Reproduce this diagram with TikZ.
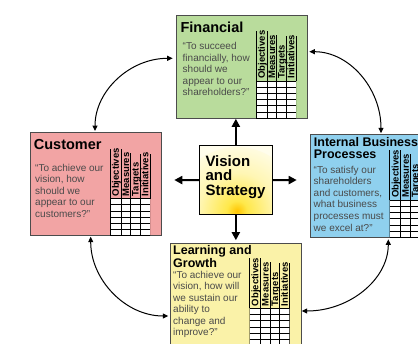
\documentclass[tikz,border=0pt]{standalone}
\usepackage{fontspec}
\setmainfont{Liberation Sans}
\usetikzlibrary{arrows.meta}

\definecolor{fingreen}{HTML}{B9DC9C}
\definecolor{custpink}{HTML}{F2A4A4}
\definecolor{procblue}{HTML}{8FD0EE}
\definecolor{learnyellow}{HTML}{FAF2A8}
\definecolor{quotegray}{HTML}{4A4A4A}
\definecolor{cream}{HTML}{FFFDEC}
\definecolor{glowcore}{HTML}{FFC400}
\definecolor{glowmid}{HTML}{FFE84A}
\definecolor{glowpale}{HTML}{FFF6B4}

% soft yellow glow at the foot of the centre box
\pgfdeclareradialshading{glow}{\pgfpoint{0bp}{0bp}}{%
  color(0bp)=(glowcore); color(4bp)=(glowmid); color(15bp)=(glowpale);
  color(28bp)=(cream); color(50bp)=(cream)}

% scorecard table: #1 prefix, #2 left x, #3 grid top y, #4 bottom y
\newcommand{\bsctable}[4]{%
  \begin{scope}
    \clip (#2,#3) rectangle (#2+40,#4);
    \fill[white] (#2,#3) rectangle (#2+40,#4);
    \foreach \k in {0,...,7}{\draw[gridline] (#2,#3+\k*6.2) -- (#2+40,#3+\k*6.2);}
    \foreach \c in {0,11,20.5,30,40}{\draw[gridline] (#2+\c,#3) -- (#2+\c,#4);}
  \end{scope}
  \draw[gridline] (#2,#3) -- (#2,#3-50);
  \draw[gridline] (#2+11,#3) -- (#2+11,#3-50);
  \draw[gridline] (#2+20.5,#3) -- (#2+20.5,#3-46);
  \draw[gridline] (#2+30,#3) -- (#2+30,#3-45);
  \draw[gridline] (#2+40,#3) -- (#2+40,#3-45);
  \node[colhead] (#1-obj) at (#2+5.5+3.3,#3-2) {Objectives};
  \node[colhead] (#1-mea) at (#2+15.75+3.3,#3-2) {Measures};
  \node[colhead] (#1-tar) at (#2+25.25+3.3,#3-2) {Targets};
  \node[colhead] (#1-ini) at (#2+35+3.3,#3-2) {Initiatives};
}

\begin{document}
\begin{tikzpicture}[x=1pt,y=-1pt,
  panel/.style={draw=black!70, line width=0.8pt, inner sep=0, anchor=north west,
    minimum width=131pt, minimum height=103pt},
  gridline/.style={line width=0.6pt, black},
  colhead/.style={rotate=90, anchor=base west, inner sep=0,
    font=\bfseries\fontsize{9.5}{10}\selectfont},
  bigtitle/.style={anchor=base west, inner sep=0, font=\bfseries\fontsize{14.5}{16}\selectfont},
  midtitle/.style={anchor=base west, inner sep=0},
  quote/.style={anchor=base west, inner sep=0, text=quotegray},
  bigarrow/.style={line width=2pt, -{Triangle[width=8pt,length=8pt]}},
  thinarrow/.style={line width=1pt, {Triangle[width=5pt,length=5.5pt]}-{Triangle[width=5pt,length=5.5pt]}}
]
\useasboundingbox (0,0) rectangle (418,343);
\clip (0,0) rectangle (418,343);

% ---- the four perspectives ----
\node[panel, fill=fingreen] (fin) at (176.3,15) {};
\node[panel, fill=custpink] (cust) at (30.3,132.3) {};
\node[panel, fill=procblue] (proc) at (309.7,134.3) {};
\node[panel, fill=learnyellow] (lrn) at (170,242.7) {};

\bsctable{fin}{256}{80.8}{118}
\bsctable{cust}{110}{198.5}{235.7}
\bsctable{proc}{389.7}{200.1}{237.3}
\bsctable{lrn}{249.5}{308.3}{346}

% titles
\node[bigtitle] (fin-title) at (180.3,32.3) {Financial};
\node[bigtitle] (cust-title) at (33.7,149) {Customer};
\node[midtitle] (proc-title) at (313.7,146) {\parbox[t]{110pt}{\bfseries\fontsize{12.5}{12.3}\selectfont Internal Business\\Processes}};
\node[midtitle] (lrn-title) at (173,254.5) {\parbox[t]{110pt}{\bfseries\fontsize{12.5}{12.6}\selectfont Learning and\\Growth}};

% questions
\node[quote] (fin-q) at (182.5,49.7) {\parbox[t]{80pt}{\fontsize{10}{11.5}\selectfont
  “To succeed\\financially, how\\should we\\appear to our\\shareholders?”}};
\node[quote] (cust-q) at (35,171.3) {\parbox[t]{80pt}{\fontsize{10}{11.5}\selectfont
  “To achieve our\\vision, how\\should we\\appear to our\\customers?”}};
\node[quote] (proc-q) at (313.5,173) {\parbox[t]{80pt}{\fontsize{10}{11.6}\selectfont
  “To satisfy our\\shareholders\\and customers,\\what business\\processes must\\we excel at?”}};
\node[quote] (lrn-q) at (173,278.3) {\parbox[t]{80pt}{\fontsize{10}{11.5}\selectfont
  “To achieve our\\vision, how will\\we sustain our\\ability to\\change and\\improve?”}};

% ---- centre box ----
\node[anchor=north west, inner sep=0, minimum width=72.7pt, minimum height=68.6pt, fill=cream] (vis) at (199.3,145.7) {};
\begin{scope}
  \clip (vis.south west) rectangle (vis.north east);
  \shade[shading=glow] (237,211) circle (64);
\end{scope}
\draw[line width=1.2pt] (vis.south west) rectangle (vis.north east);
\node[anchor=base west, inner sep=0] (vis-text) at (205.3,166) {\parbox[t]{70pt}{\bfseries\fontsize{15}{14.8}\selectfont Vision\\and\\Strategy}};

% ---- arrows out of the centre ----
\coordinate (vis-l) at (174.3,180);
\coordinate (vis-r) at (296.7,180);
\draw[bigarrow] (vis.north) -- (vis.north |- fin.south);
\draw[bigarrow, shorten >=2.5pt] (vis.south) -- (vis.south |- lrn.north);
\draw[bigarrow] (vis.west) -- (vis-l);
\draw[bigarrow] (vis.east) -- (vis-r);

% ---- links around the cycle ----
\coordinate (fin-lt) at (172.7,58.3);
\coordinate (cust-tp) at (95,131);
\coordinate (fin-rt) at (309.3,51.7);
\coordinate (proc-tp) at (381,133.3);
\coordinate (cust-bt) at (90.7,236.7);
\coordinate (lrn-lt) at (168.3,316);
\coordinate (proc-bt) at (388.3,239.3);
\coordinate (lrn-rt) at (301.7,311);
\draw[thinarrow] (fin-lt) .. controls +(-43,0) and +(0,-40) .. (cust-tp);
\draw[thinarrow] (fin-rt) .. controls +(40,0) and +(0,-45) .. (proc-tp);
\draw[thinarrow] (cust-bt) .. controls +(0,43) and +(-43,0) .. (lrn-lt);
\draw[thinarrow] (proc-bt) .. controls +(0,40) and +(48,0) .. (lrn-rt);
\end{tikzpicture}
\end{document}
